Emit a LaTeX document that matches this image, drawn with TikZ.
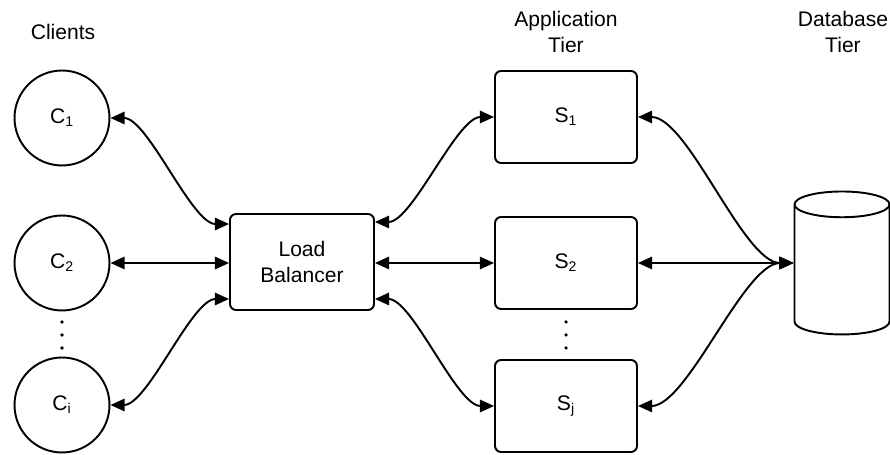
\documentclass[tikz,border=0pt]{standalone}
\usepackage{fontspec}
\setmainfont{Liberation Sans}
\usetikzlibrary{arrows.meta,shapes.geometric}

\tikzset{
  client/.style  = {circle, draw, line width=1.1pt, minimum size=1.9cm, inner sep=0pt},
  server/.style  = {rectangle, draw, line width=1.1pt, rounded corners=3.4pt,
                    minimum width=2.84cm, minimum height=1.84cm},
  balancer/.style= {server, minimum width=2.88cm, minimum height=1.92cm, align=center},
  store/.style   = {cylinder, draw, line width=1.1pt, shape border rotate=90,
                    aspect=2.2, minimum width=1.9cm, minimum height=2.86cm},
  tier/.style    = {align=center},
  link/.style    = {line width=1.1pt, {Triangle[length=8pt,width=7pt]}-{Triangle[length=8pt,width=7pt]}},
}

\begin{document}
\begin{tikzpicture}[x=0.02cm, y=-0.02cm, font=\fontsize{12}{14.9}\selectfont]
    \useasboundingbox (0,0) rectangle (890,455);

    % column headings
    \node[tier] (hclients) at ( 63, 32) {Clients};
    \node[tier] (happ)     at (566, 32) {Application\\Tier};
    \node[tier] (hdb)      at (843, 32) {Database\\Tier};

    % clients
    \node[client] (C1) at (62,118) {C\textsubscript{1}};
    \node[client] (C2) at (62,263) {C\textsubscript{2}};
    \node[client] (Ci) at (62,405) {C\textsubscript{i}};

    % load balancer
    \node[balancer] (LB) at (302,262) {Load\\Balancer};

    % application servers
    \node[server] (S1) at (566,117) {S\textsubscript{1}};
    \node[server] (S2) at (566,263) {S\textsubscript{2}};
    \node[server] (Sj) at (566,406) {S\textsubscript{j}};

    % elided rows
    \foreach \y in {322,335,348} {
        \fill ( 62,\y) circle[radius=1pt];
        \fill (566,\y) circle[radius=1pt];
    }

    % database
    \node[store] (DB) at (842,273) {};

    % clients <-> balancer
    \draw[link] (C1.east) to[out=0, in=180, looseness=0.6] ([yshift=0.76cm]LB.west);
    \draw[link] (C2.east) -- (LB.west |- C2.east);
    \draw[link] (Ci.east) to[out=0, in=180, looseness=0.6] ([yshift=-0.74cm]LB.west);

    % balancer <-> servers
    \draw[link] ([yshift=0.8cm]LB.east) to[out=0, in=180, looseness=0.6] (S1.west);
    \draw[link] (LB.east |- S2.west) -- (S2.west);
    \draw[link] ([yshift=-0.74cm]LB.east) to[out=0, in=180, looseness=0.6] (Sj.west);

    % servers <-> database
    \draw[link] (S1.east) to[out=0, in=180, looseness=0.6] (DB.west |- S2.east);
    \draw[link] (S2.east) -- (DB.west |- S2.east);
    \draw[link] (Sj.east) to[out=0, in=180, looseness=0.6] (DB.west |- S2.east);
\end{tikzpicture}
\end{document}
